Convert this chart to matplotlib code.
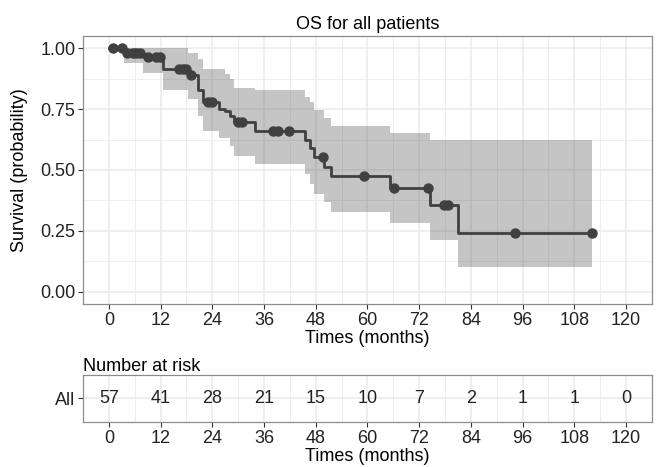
import matplotlib.pyplot as plt
import numpy as np

plt.rcParams['font.family'] = ['Liberation Sans', 'DejaVu Sans']

# step function of the KM curve (value holds from each time until the next)
step_t = [0, 3.5, 7.9, 12.5, 18.4, 20.6, 21.8, 25.6, 26.9, 28.0, 29.0, 33.8,
          45.5, 46.6, 47.7, 50.0, 51.6, 65.2, 74.4, 80.9, 112.2]
surv = [1.0, 0.982, 0.964, 0.913, 0.890, 0.830, 0.780, 0.752, 0.743, 0.720, 0.695, 0.662,
        0.625, 0.590, 0.555, 0.511, 0.475, 0.427, 0.356, 0.242, 0.242]
upper = [1.0, 1.0, 1.0, 1.0, 0.980, 0.954, 0.914, 0.914, 0.894, 0.874, 0.835, 0.827,
         0.800, 0.780, 0.746, 0.712, 0.680, 0.652, 0.625, 0.625, 0.625]
lower = [1.0, 0.940, 0.900, 0.830, 0.790, 0.720, 0.660, 0.630, 0.630, 0.600, 0.558, 0.525,
         0.484, 0.444, 0.403, 0.370, 0.329, 0.282, 0.211, 0.100, 0.100]

# censored observations
cens_t = [1.0, 3.0, 4.1, 5.5, 6.3, 7.2, 9.1, 11.0, 11.8, 16.3, 17.2, 18.0, 19.1,
          23.0, 24.0, 29.9, 30.9, 38.1, 39.2, 41.9, 49.8, 59.1, 66.1, 74.0,
          77.8, 78.6, 94.2, 112.2]
cens_s = [1.0, 1.0, 0.982, 0.982, 0.982, 0.982, 0.964, 0.964, 0.964, 0.913, 0.913, 0.913, 0.890,
          0.780, 0.780, 0.695, 0.695, 0.662, 0.662, 0.662, 0.555, 0.475, 0.427, 0.427,
          0.356, 0.356, 0.242, 0.242]

risk_t = [0, 12, 24, 36, 48, 60, 72, 84, 96, 108, 120]
risk_n = [57, 41, 28, 21, 15, 10, 7, 2, 1, 1, 0]

grid_c = '#ebebeb'
dark = '#404040'
frame_c = '#8c8c8c'
tick_fs = 13
lab_fs = 13

fig = plt.figure(figsize=(6.57, 4.67), dpi=100)


def style(ax):
    for s in ax.spines.values():
        s.set_color(frame_c)
        s.set_linewidth(0.9)
    ax.tick_params(colors='#333333', labelcolor='#222222', labelsize=tick_fs,
                   length=3.5, width=0.8, pad=2)
    ax.tick_params(which='minor', length=0)
    ax.set_axisbelow(True)


ax = fig.add_axes([0.1263, 0.349, 0.866, 0.574])
ax.fill_between(step_t, lower, upper, step='post', color='#555555', alpha=0.34, linewidth=0)
ax.step(step_t, surv, where='post', color=dark, linewidth=2)
ax.plot(cens_t, cens_s, 'o', color=dark, markersize=6.5)
ax.set_xlim(-6, 126)
ax.set_ylim(-0.05, 1.05)
ax.set_xticks(risk_t)
ax.set_xticks(np.arange(6, 126, 12), minor=True)
ax.set_yticks([0, 0.25, 0.5, 0.75, 1.0])
ax.set_yticklabels(['0.00', '0.25', '0.50', '0.75', '1.00'])
ax.set_yticks([0.125, 0.375, 0.625, 0.875], minor=True)
ax.grid(which='major', color=grid_c, linewidth=1.1)
ax.grid(which='minor', color=grid_c, linewidth=0.6)
style(ax)
ax.set_xlabel('Times (months)', fontsize=lab_fs, labelpad=1)
ax.set_ylabel('Survival (probability)', fontsize=lab_fs, labelpad=9)
ax.set_title('OS for all patients', fontsize=lab_fs, pad=5)

rx = fig.add_axes([0.1263, 0.0964, 0.866, 0.1006])
for t, n in zip(risk_t, risk_n):
    rx.text(t, 0, str(n), ha='center', va='center', fontsize=tick_fs, color='#222222')
rx.set_xlim(-6, 126)
rx.set_ylim(-0.5, 0.5)
rx.set_xticks(risk_t)
rx.set_xticks(np.arange(6, 126, 12), minor=True)
rx.set_yticks([0])
rx.set_yticklabels(['All'])
rx.grid(which='major', color=grid_c, linewidth=1.1)
rx.grid(which='minor', axis='x', color=grid_c, linewidth=0.6)
style(rx)
rx.set_xlabel('Times (months)', fontsize=lab_fs, labelpad=1)
rx.set_title('Number at risk', fontsize=lab_fs, loc='left', pad=3)

fig.savefig('out.png', dpi=100)
